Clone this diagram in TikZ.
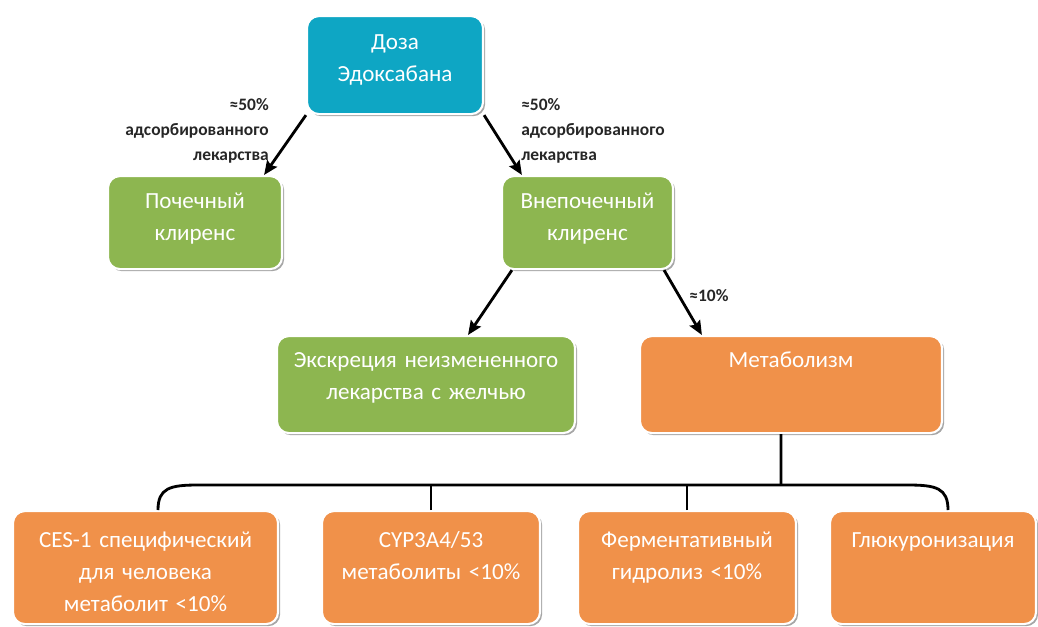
\documentclass[tikz,border=0pt]{standalone}
\usepackage{fontspec}
\setmainfont{Carlito}
\usetikzlibrary{arrows.meta,shadows}
\definecolor{doseblue}{RGB}{14,166,196}
\definecolor{leafgreen}{RGB}{141,182,80}
\definecolor{metorange}{RGB}{240,145,74}

\begin{document}
\begin{tikzpicture}[x=0.025cm,y=-0.025cm,
  box/.style={draw=white, line width=1.5pt, rounded corners=0.3cm, anchor=north, inner sep=0pt,
    align=center, text=white, font=\fontsize{16.4}{22.8}\selectfont,
    drop shadow={shadow xshift=1.5pt, shadow yshift=-1.5pt, opacity=0.35, fill=black}},
  note/.style={inner sep=0pt, font=\fontsize{12.4}{18}\selectfont\bfseries, text=black!85},
  link/.style={line width=2pt, black},
  arrowlink/.style={link, -{Stealth[length=10pt,width=8.5pt,inset=1.5pt]}}]
\useasboundingbox (0,0) rectangle (1038,626);

% boxes
\node[box, fill=doseblue, text width=4.4cm, text height=0.83cm, text depth=1.62cm] (dose) at (395,15) {Доза\\Эдоксабана};
\node[box, fill=leafgreen, text width=4.35cm, text height=0.8cm, text depth=1.525cm] (renal) at (195,175) {Почечный\\клиренс};
\node[box, fill=leafgreen, text width=4.275cm, text height=0.8cm, text depth=1.525cm] (nonrenal) at (587.5,175) {Внепочечный\\клиренс};
\node[box, fill=leafgreen, text width=7.45cm, text height=0.775cm, text depth=1.65cm] (excretion) at (426,335) {Экскреция неизмененного\\лекарства с желчью};
\node[box, fill=metorange, text width=7.55cm, text height=0.775cm, text depth=1.65cm] (metab) at (791,335) {Метаболизм};

\node[box, fill=metorange, text width=6.625cm, text height=0.9cm, text depth=1.925cm] (ces) at (145.5,510) {CES-1 специфический\\для человека\\метаболит <10\%};
\node[box, fill=metorange, text width=5.45cm, text height=0.9cm, text depth=1.925cm] (cyp) at (431,510) {CYP3A4/53\\метаболиты <10\%};
\node[box, fill=metorange, text width=5.45cm, text height=0.9cm, text depth=1.925cm] (hydro) at (687,510) {Ферментативный\\гидролиз <10\%};
\node[box, fill=metorange, text width=5.15cm, text height=0.9cm, text depth=1.925cm] (gluc) at (933,510) {Глюкуронизация};

% labels
\node[note, anchor=north east, align=right] (lblL) at (269,98) {≈50\%\\адсорбированного\\лекарства};
\node[note, anchor=north west, align=left] (lblR) at (521,98) {≈50\%\\адсорбированного\\лекарства};
\node[note] (lbl10) at (709,296) {≈10\%};

% arrows
\draw[arrowlink] (dose.south west) -- ([xshift=-0.475cm]renal.north east);
\draw[arrowlink] (dose.south east) -- ([xshift=0.525cm]nonrenal.north west);
\draw[arrowlink] ([xshift=0.275cm]nonrenal.south west) -- ([xshift=1.05cm]excretion.north);
\draw[arrowlink] ([xshift=-0.25cm]nonrenal.south east) -- ([xshift=1.575cm]metab.north west);

% bracket
\coordinate (hub) at (781,485);
\coordinate (bendL) at (198,485);
\coordinate (bendR) at (908,485);
\draw[link] ([xshift=-0.25cm]metab.south) -- (hub);
\draw[link] ([xshift=0.3125cm]ces.north) .. controls +(0,-22) and +(-28,0) .. (bendL) -- (bendR)
  .. controls +(28,0) and +(0,-22) .. ([xshift=0.375cm]gluc.north);
\draw[link] (cyp.north) -- (cyp.north |- hub);
\draw[link] (hydro.north) -- (hydro.north |- hub);
\end{tikzpicture}
\end{document}
